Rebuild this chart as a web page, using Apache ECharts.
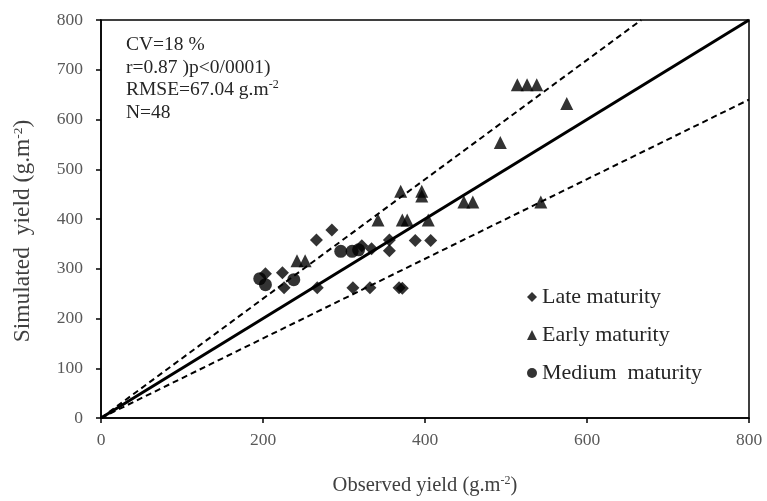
<!DOCTYPE html>
<html lang="en">
<head>
	<meta charset="UTF-8">
	<title>Observed vs simulated yield</title>
	<script src="https://cdn.jsdelivr.net/npm/echarts@6/dist/echarts.min.js"></script>
</head>
<body style="margin:0;background:#fff;">
	<div id="main" style="width: 767px;height: 501px;"></div>

	<script>
		// observed, simulated (g.m-2)
		var lateMaturity = [
			[203, 290], [224, 292], [226, 262], [266, 358], [285, 378], [267, 262],
			[322, 346], [334, 340], [356, 358], [356, 336], [388, 357], [407, 357],
			[311, 262], [332, 262], [368, 262], [372, 261]
		];
		var earlyMaturity = [
			[242, 316], [252, 316], [342, 398], [372, 398], [378, 398], [404, 398],
			[370, 456], [396, 456], [396, 446], [448, 434], [459, 434], [543, 434],
			[493, 554], [514, 670], [526, 670], [538, 670], [575, 632]
		];
		var mediumMaturity = [
			[196, 280], [203, 268], [238, 278], [296, 335], [310, 335], [318, 338]
		];
		var oneToOne = [[0, 0], [800, 800]];
		var upperBound = [[0, 0], [667, 800]];   // +20 %
		var lowerBound = [[0, 0], [800, 640]];   // -20 %
		var axisTicks = [0, 800, 200, 100];      // min, max, x interval, y interval

		var serif = 'Liberation Serif';
		var chartDom = document.getElementById('main');
		var myChart = echarts.init(chartDom);

		var axisCommon = {
			type: 'value',
			min: axisTicks[0],
			max: axisTicks[1],
			splitLine: { show: false },
			axisLine: { show: true, onZero: false, lineStyle: { color: '#000', width: 1.5 } },
			axisTick: { show: true, length: 5, lineStyle: { color: '#000', width: 1.5 } },
			axisLabel: { color: '#595959', fontFamily: serif, fontSize: 17.5 },
			nameLocation: 'middle',
			nameTextStyle: {
				color: '#404040', fontFamily: serif, fontSize: 20.5,
				rich: { sup: { fontSize: 12, verticalAlign: 'top', color: '#404040', fontFamily: serif } }
			}
		};

		var option = {
			animation: false,
			backgroundColor: '#fff',
			grid: {
				left: 101, right: 18, top: 20, bottom: 81,
				show: true, borderColor: '#000', borderWidth: 1.5
			},
			xAxis: Object.assign({}, axisCommon, {
				interval: axisTicks[2],
				name: 'Observed yield (g.m{sup|-2})',
				nameGap: 57,
				axisLabel: Object.assign({}, axisCommon.axisLabel, { margin: 13 })
			}),
			yAxis: Object.assign({}, axisCommon, {
				interval: axisTicks[3],
				name: 'Simulated  yield (g.m{sup|-2})',
				nameGap: 66,
				nameTextStyle: Object.assign({}, axisCommon.nameTextStyle, {
					fontSize: 23.5, padding: [0, 24, 0, 0],
					rich: { sup: { fontSize: 13.5, verticalAlign: 'top', color: '#404040', fontFamily: serif } }
				}),
				axisLabel: Object.assign({}, axisCommon.axisLabel, { margin: 18 })
			}),
			legend: {
				orient: 'vertical',
				left: 522,
				top: 281,
				itemGap: 16,
				itemWidth: 10,
				itemHeight: 10,
				textStyle: { color: '#262626', fontFamily: serif, fontSize: 22 },
				data: [
					{ name: 'Late maturity', icon: 'diamond' },
					{ name: 'Early maturity', icon: 'triangle' },
					{ name: 'Medium  maturity', icon: 'circle' }
				]
			},
			graphic: [{
				type: 'text',
				left: 126,
				top: 34,
				style: {
					text: 'CV=18 %\nr=0.87 )p<0/0001)\nRMSE=67.04 g.m{sup|-2}\nN=48',
					font: '19.5px "Liberation Serif"',
					fill: '#262626',
					lineHeight: 22.5,
					rich: {
						sup: { fontSize: 12, verticalAlign: 'top', fill: '#262626', fontFamily: serif }
					}
				}
			}],
			series: [
				{
					type: 'line', data: upperBound, symbol: 'none', silent: true,
					lineStyle: { color: '#000', width: 2, type: [6, 4] }
				},
				{
					type: 'line', data: lowerBound, symbol: 'none', silent: true,
					lineStyle: { color: '#000', width: 2, type: [6, 4] }
				},
				{
					type: 'line', data: oneToOne, symbol: 'none', silent: true,
					lineStyle: { color: '#000', width: 3 }
				},
				{
					name: 'Late maturity', type: 'scatter', data: lateMaturity,
					symbol: 'diamond', symbolSize: 13, itemStyle: { color: '#000' }
				},
				{
					name: 'Early maturity', type: 'scatter', data: earlyMaturity,
					symbol: 'triangle', symbolSize: 13, itemStyle: { color: '#000' }
				},
				{
					name: 'Medium  maturity', type: 'scatter', data: mediumMaturity,
					symbol: 'circle', symbolSize: 13, itemStyle: { color: '#000' }
				}
			]
		};

		myChart.setOption(option);
	</script>
</body>
</html>
